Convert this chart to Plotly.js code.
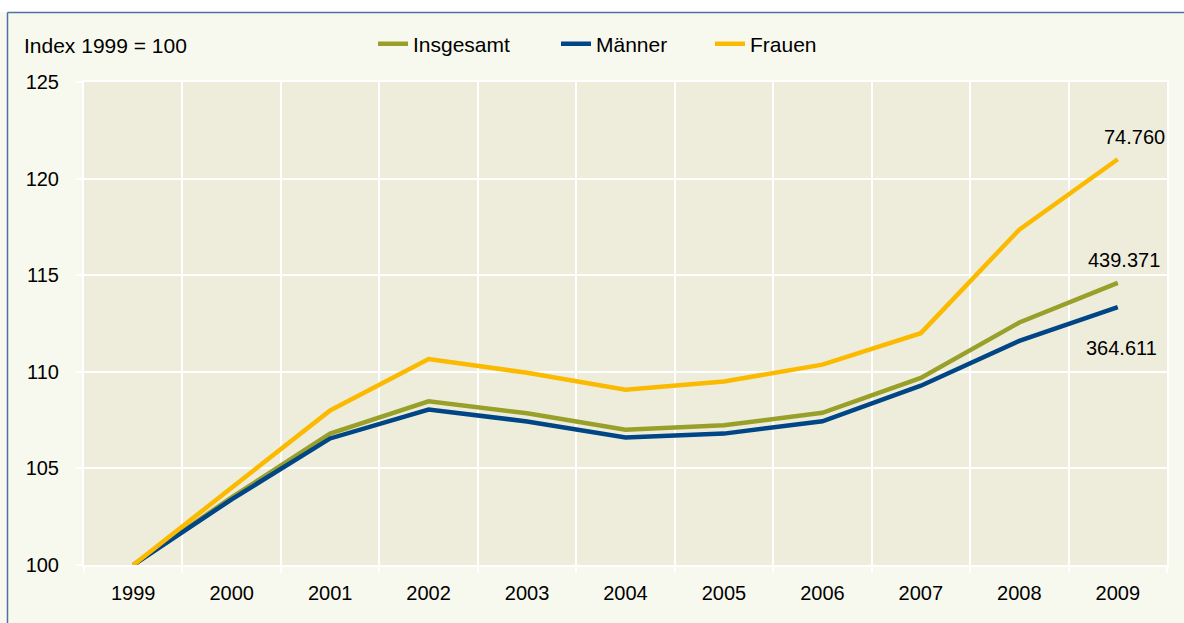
<!DOCTYPE html>
<html>
<head>
<meta charset="utf-8">
<script src="https://cdn.plot.ly/plotly-3.0.1.min.js"></script>
<style>html,body{margin:0;padding:0;background:#fff;}#chart{width:1184px;height:623px;}</style>
</head>
<body>
<div id="chart"></div>
<script>
const years = ['1999','2000','2001','2002','2003','2004','2005','2006','2007','2008','2009'];
const insgesamt = [100, 103.5, 106.8, 108.47, 107.85, 107.0, 107.23, 107.88, 109.68, 112.55, 114.6];
const maenner   = [100, 103.4, 106.55, 108.05, 107.43, 106.6, 106.8, 107.44, 109.28, 111.6, 113.35];
const frauen    = [100, 104.0, 108.0, 110.66, 109.95, 109.07, 109.5, 110.37, 112.0, 117.36, 121.0];
const yTicks = [100, 105, 110, 115, 120, 125];
const endLabels = ['74.760', '439.371', '364.611'];

const W = 1184, H = 623;
const M = {l: 84, r: 17, t: 82, b: 58};
const pw = W - M.l - M.r, ph = H - M.t - M.b;
const px2x = p => (p - M.l) / pw;
const px2y = p => (H - M.b - p) / ph;

const FAM = 'Liberation Sans, Arial, sans-serif';
const font = {family: FAM, size: 20, color: '#000'};
const lfont = {family: FAM, size: 21, color: '#000'};

const series = [
  {name: 'Insgesamt', y: insgesamt, color: '#98A02A', legend: 'legend'},
  {name: 'Männer', y: maenner, color: '#004586', legend: 'legend2'},
  {name: 'Frauen', y: frauen, color: '#FBBA00', legend: 'legend3'}
];
const traces = series.map(t => ({
  type: 'scatter', mode: 'lines', name: t.name, x: years, y: t.y, legend: t.legend,
  line: {color: t.color, width: 4.5}, hoverinfo: 'skip'
}));

const last = years.length - 1;
const annotations = [
  {text: 'Index 1999 = 100', xref: 'paper', yref: 'paper', x: px2x(22), y: px2y(45),
   xanchor: 'left', yanchor: 'middle', showarrow: false, font: lfont},
  {text: endLabels[0], xref: 'x', yref: 'y', x: last, y: frauen[last],
   xshift: 17, yshift: 22, showarrow: false, font: font},
  {text: endLabels[1], xref: 'x', yref: 'y', x: last, y: insgesamt[last],
   xshift: 6, yshift: 23, showarrow: false, font: font},
  {text: endLabels[2], xref: 'x', yref: 'y', x: last, y: maenner[last],
   xshift: 4, yshift: -41, showarrow: false, font: font}
];

function leg(xpx) {
  return {orientation: 'h', x: px2x(xpx), y: px2y(44), xanchor: 'left', yanchor: 'middle',
          bgcolor: 'rgba(0,0,0,0)', font: lfont, borderwidth: 0};
}

const layout = {
  width: W, height: H,
  margin: M,
  paper_bgcolor: '#F8F9EE',
  plot_bgcolor: '#EEEDDC',
  font: font,
  showlegend: true,
  legend: leg(373), legend2: leg(556), legend3: leg(710),
  xaxis: {type: 'category', range: [-0.5, last + 0.5], tickson: 'boundaries',
          showgrid: true, gridcolor: '#ffffff', gridwidth: 2,
          ticks: 'outside', ticklen: 6, tickwidth: 2, tickcolor: '#ffffff',
          ticklabelstandoff: 9,
          showline: true, linecolor: '#ffffff', linewidth: 2, mirror: true,
          tickfont: font, tickangle: 0, fixedrange: true, zeroline: false},
  yaxis: {range: [100, 125], tickvals: yTicks, ticktext: yTicks.map(String),
          showgrid: true, gridcolor: '#ffffff', gridwidth: 2,
          ticks: 'outside', ticklen: 6, tickwidth: 2, tickcolor: '#ffffff',
          ticklabelstandoff: 13,
          showline: true, linecolor: '#ffffff', linewidth: 2, mirror: true,
          tickfont: font, zeroline: false, fixedrange: true},
  shapes: [
    {type: 'rect', xref: 'paper', yref: 'paper', layer: 'above',
     x0: px2x(-5), x1: px2x(1200), y0: px2y(12), y1: px2y(-5),
     fillcolor: '#ffffff', line: {width: 0}},
    {type: 'line', xref: 'paper', yref: 'paper', layer: 'above',
     x0: px2x(7.5), x1: px2x(1200), y0: px2y(12.5), y1: px2y(12.5),
     line: {color: '#4F6FA8', width: 1.5}},
    {type: 'line', xref: 'paper', yref: 'paper', layer: 'above',
     x0: px2x(7.5), x1: px2x(7.5), y0: px2y(12.5), y1: px2y(640),
     line: {color: '#4F6FA8', width: 1.5}}
  ],
  annotations: annotations
};

Plotly.newPlot('chart', traces, layout, {displayModeBar: false, staticPlot: true});
</script>
</body>
</html>
